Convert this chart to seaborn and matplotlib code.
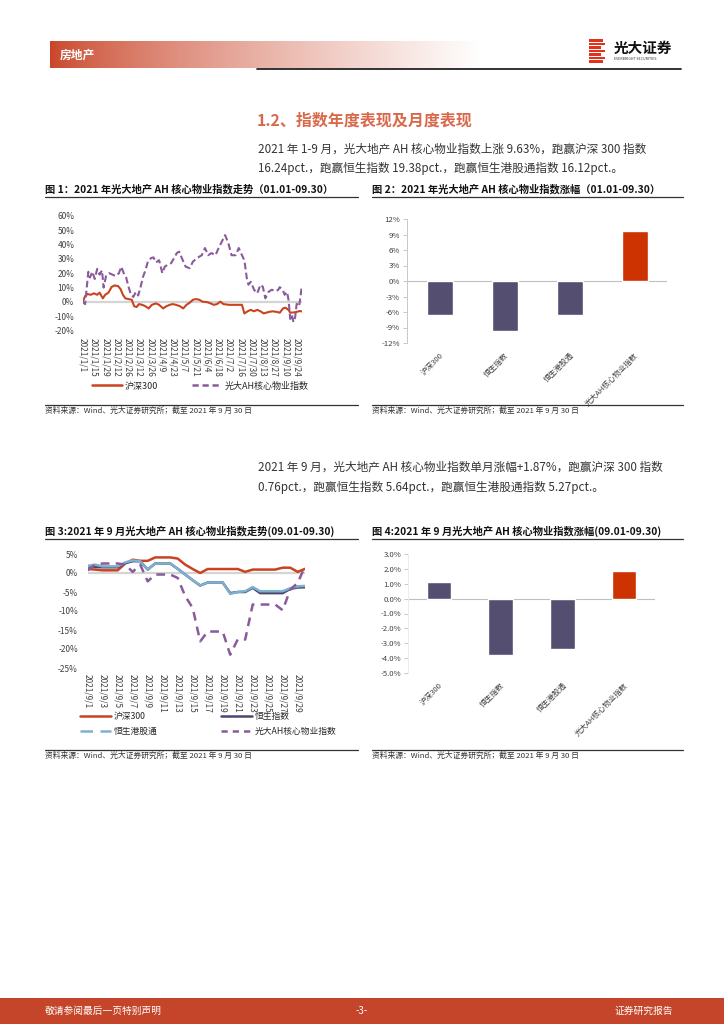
import numpy as np
import pandas as pd
import seaborn as sns
import matplotlib.pyplot as plt
from matplotlib.lines import Line2D
from matplotlib.patches import Rectangle

sns.set_theme(style="white")
plt.rcParams['font.family'] = ['Noto Sans CJK SC', 'DejaVu Sans']
plt.rcParams['axes.unicode_minus'] = False

# colours
RED = "#C9431F"
PURPLE = "#8A5B9B"
NAVY = "#4B4670"
LBLUE = "#7DB1CF"
BAR = "#544F70"
BAR_RED = "#CC3300"
TXT = "#333333"

# ---- chart 1: year-to-date index moves (%)
ah_dates = ["2021-01-01", "2021-01-04", "2021-01-08", "2021-01-10", "2021-01-13", "2021-01-16",
            "2021-01-19", "2021-01-22", "2021-01-25", "2021-01-27", "2021-01-30", "2021-02-03",
            "2021-02-07", "2021-02-11", "2021-02-15", "2021-02-18", "2021-02-21", "2021-02-24",
            "2021-02-27", "2021-03-02", "2021-03-05", "2021-03-08", "2021-03-11", "2021-03-14",
            "2021-03-17", "2021-03-20", "2021-03-23", "2021-03-27", "2021-03-30", "2021-04-02",
            "2021-04-06", "2021-04-10", "2021-04-13", "2021-04-17", "2021-04-21", "2021-04-25",
            "2021-04-28", "2021-05-01", "2021-05-05", "2021-05-09", "2021-05-14", "2021-05-18",
            "2021-05-23", "2021-05-29", "2021-06-02", "2021-06-06", "2021-06-10", "2021-06-15",
            "2021-06-19", "2021-06-23", "2021-06-27", "2021-07-01", "2021-07-05", "2021-07-10",
            "2021-07-14", "2021-07-18", "2021-07-21", "2021-07-24", "2021-07-26", "2021-07-29",
            "2021-08-02", "2021-08-06", "2021-08-10", "2021-08-13", "2021-08-16", "2021-08-20",
            "2021-08-24", "2021-08-29", "2021-09-01", "2021-09-03", "2021-09-07", "2021-09-09",
            "2021-09-12", "2021-09-14", "2021-09-16", "2021-09-18", "2021-09-20", "2021-09-22",
            "2021-09-24", "2021-09-27", "2021-09-29", "2021-09-30"]
ah_vals = [0, -1.5, 21, 17, 21, 16,
           23, 19, 22, 10, 18, 20,
           19, 18, 20, 24.5, 20, 17,
           10.5, 5, 3.5, 7, 4.5, 10.5,
           17.5, 22, 28, 30.5, 31, 27.5,
           29, 20, 24.5, 26, 27, 31,
           34, 35, 29.5, 24.5, 23.5, 28,
           30.5, 32.5, 37.5, 32.5, 34, 32.5,
           37.5, 42, 46.5, 41, 32.5, 32.5,
           37.5, 32.5, 29, 16.5, 12, 14,
           8.5, 6, 12, 10.5, 2.5, 7,
           8.5, 7.5, 8.4, 10.3, 8, 5,
           7, 1, -11.8, -9, -14, -11,
           -1.3, -3, 4.8, 9.6]

hs_dates = ["2021-01-01", "2021-01-04", "2021-01-07", "2021-01-11", "2021-01-15", "2021-01-19",
            "2021-01-22", "2021-01-26", "2021-01-29", "2021-02-02", "2021-02-06", "2021-02-10",
            "2021-02-14", "2021-02-17", "2021-02-20", "2021-02-23", "2021-02-27", "2021-03-03",
            "2021-03-06", "2021-03-09", "2021-03-12", "2021-03-16", "2021-03-20", "2021-03-24",
            "2021-03-28", "2021-04-02", "2021-04-06", "2021-04-11", "2021-04-15", "2021-04-19",
            "2021-04-23", "2021-04-27", "2021-05-02", "2021-05-06", "2021-05-10", "2021-05-14",
            "2021-05-18", "2021-05-22", "2021-05-26", "2021-05-30", "2021-06-05", "2021-06-09",
            "2021-06-13", "2021-06-17", "2021-06-21", "2021-06-25", "2021-07-02", "2021-07-10",
            "2021-07-18", "2021-07-21", "2021-07-25", "2021-07-29", "2021-08-02", "2021-08-06",
            "2021-08-10", "2021-08-14", "2021-08-20", "2021-08-25", "2021-08-31", "2021-09-03",
            "2021-09-07", "2021-09-10", "2021-09-14", "2021-09-16", "2021-09-22", "2021-09-28",
            "2021-09-30"]
hs_vals = [0, 4, 5.5, 5, 6, 5,
           6.5, 2.5, 5, 6.5, 10.5, 11.5,
           11, 9, 5, 2.5, 2, 1.5,
           -3, -3.5, -1.5, -2, -3, -4.5,
           -2, -1, -2, -4.5, -3, -2,
           -1.5, -2, -3, -4.5, -2, -0.5,
           1.5, 2, 1.5, 0.2, -0.2, -1,
           -2, -1.5, 0.2, -1.5, -2, -2,
           -2, -8, -6.5, -5.5, -6.5, -5.5,
           -6.5, -8, -7, -6.5, -7, -7.5,
           -4.5, -4, -5.6, -7.5, -7.2, -6.3,
           -6.6]

ytd_ticks = ["2021/1/1", "2021/1/15", "2021/1/29", "2021/2/12", "2021/2/26", "2021/3/12",
             "2021/3/26", "2021/4/9", "2021/4/23", "2021/5/7", "2021/5/21", "2021/6/4",
             "2021/6/18", "2021/7/2", "2021/7/16", "2021/7/30", "2021/8/13", "2021/8/27",
             "2021/9/10", "2021/9/24"]

# ---- chart 2 / 4: bar values (%)
bar_names = ["沪深300", "恒生指数", "恒生港股通", "光大AH核心物业指数"]
ytd_change = [-6.61, -9.75, -6.49, 9.63]
sep_change = [1.11, -3.77, -3.40, 1.87]

# ---- chart 3: September daily moves (%)
sep_days = pd.date_range("2021-09-01", "2021-09-30")
sep_hs300 = [1.05, 0.9, 0.7, 0.7, 0.7, 2.5, 3.5, 3.2, 3.2, 4.1,
             4.1, 4.1, 3.8, 2.2, 1.05, 0.0, 1.05, 1.05, 1.05, 1.05,
             1.05, 0.3, 0.9, 0.9, 0.9, 0.9, 1.4, 1.4, 0.3, 1.11]
sep_hsi = [1.75, 1.6, 1.5, 1.5, 1.5, 2.6, 3.1, 3.1, 0.9, 2.5,
           2.5, 2.5, 1.1, -0.4, -1.9, -3.3, -2.5, -2.5, -2.5, -5.3,
           -5.0, -5.0, -3.9, -5.3, -5.3, -5.3, -5.3, -4.2, -3.8, -3.77]
sep_hkc = [1.9, 2.2, 1.75, 1.75, 1.75, 2.8, 3.3, 3.1, 0.9, 2.5,
           2.5, 2.5, 1.1, -0.4, -1.9, -3.3, -2.5, -2.5, -2.5, -5.5,
           -5.0, -4.8, -3.7, -4.8, -4.8, -4.8, -4.8, -4.0, -3.5, -3.40]
sep_ah = [0.7, 2.2, 2.5, 2.5, 2.5, 2.2, 0.3, 2.2, -2.2, -0.4,
          -0.4, -0.4, -1.3, -6.1, -9.2, -18.0, -15.4, -15.4, -15.4, -21.5,
          -17.5, -17.5, -8.3, -8.3, -8.3, -8.3, -9.8, -4.4, -2.6, 1.87]
sep_ticks = ["2021/9/1", "2021/9/3", "2021/9/5", "2021/9/7", "2021/9/9", "2021/9/11",
             "2021/9/13", "2021/9/15", "2021/9/17", "2021/9/19", "2021/9/21", "2021/9/23",
             "2021/9/25", "2021/9/27", "2021/9/29"]

W, H = 724, 1024
fig = plt.figure(figsize=(7.24, 10.24), dpi=100)


def box(l, t, r, b):
    return [l / W, 1 - b / H, (r - l) / W, (b - t) / H]


def ftext(x, y, s, **kw):
    kw.setdefault("va", "center")
    fig.text(x / W, 1 - y / H, s, **kw)


def hline(x0, x1, y, **kw):
    fig.add_artist(Line2D([x0 / W, x1 / W], [1 - y / H, 1 - y / H], **kw))


# ---- page header
hdr = fig.add_axes(box(50, 41, 482, 68))
g = np.linspace(0, 1, 300) ** 0.75
c0 = np.array([0.79, 0.27, 0.16])
grad = c0[None, :] * (1 - g[:, None]) + g[:, None]
hdr.imshow(grad[None, :, :], aspect="auto", extent=[0, 1, 0, 1])
hdr.axis("off")
ftext(60, 55, "房地产", color="white", fontsize=8.5, fontweight="bold")
hline(257, 681, 68.5, color="#222222", lw=1.3)
for i, w in enumerate([14, 16, 12, 16, 12, 16, 14]):
    fig.add_artist(Rectangle((589 / W, 1 - (39 + i * 3.5 + 2.6) / H), w / W, 2.6 / H,
                             transform=fig.transFigure, color="#E2321C", lw=0))
ftext(614, 48, "光大证券", fontsize=10.5, fontweight="bold", color="#111111")
ftext(614, 59, "EVERBRIGHT SECURITIES", fontsize=2.6, color="#333333")

# ---- section heading and paragraphs
ftext(257, 121, "1.2、指数年度表现及月度表现", fontsize=11.5, fontweight="bold", color="#D9694C")
ftext(258, 149, "2021 年 1-9 月，光大地产 AH 核心物业指数上涨 9.63%，跑赢沪深 300 指数",
      fontsize=8.4, color=TXT)
ftext(258, 168, "16.24pct.，跑赢恒生指数 19.38pct.，跑赢恒生港股通指数 16.12pct.。",
      fontsize=8.4, color=TXT)
ftext(258, 467, "2021 年 9 月，光大地产 AH 核心物业指数单月涨幅+1.87%，跑赢沪深 300 指数",
      fontsize=8.4, color=TXT)
ftext(258, 487, "0.76pct.，跑赢恒生指数 5.64pct.，跑赢恒生港股通指数 5.27pct.。",
      fontsize=8.4, color=TXT)

# ---- figure titles and sources
src = "资料来源：Wind、光大证券研究所；截至 2021 年 9 月 30 日"
for x0, x1, ty, ly, sy, title in [
    (45, 358, 189, 197, 411, "图 1：2021 年光大地产 AH 核心物业指数走势（01.01-09.30）"),
    (372, 683, 189, 197, 411, "图 2：2021 年光大地产 AH 核心物业指数涨幅（01.01-09.30）"),
    (45, 358, 531, 539, 756, "图 3:2021 年 9 月光大地产 AH 核心物业指数走势(09.01-09.30)"),
    (372, 683, 531, 539, 756, "图 4:2021 年 9 月光大地产 AH 核心物业指数涨幅(09.01-09.30)"),
]:
    ftext(x0, ty, title, fontsize=7.4, fontweight="bold", color="#111111")
    hline(x0, x1, ly, color="#333333", lw=0.9)
    hline(x0, x1, sy - 6, color="#333333", lw=0.9)
    ftext(x0, sy, src, fontsize=5.6, color=TXT)

# ---- chart 1
ax1 = fig.add_axes(box(82.7, 215.7, 301.5, 330.7))
ax1.axhline(0, color="#D4D4D4", lw=1.6, zorder=0)
sns.lineplot(x=pd.to_datetime(hs_dates), y=hs_vals, ax=ax1, color=RED, lw=1.5)
sns.lineplot(x=pd.to_datetime(ah_dates), y=ah_vals, ax=ax1, color=PURPLE, lw=1.5)
ax1.lines[-1].set_dashes((3.2, 1.6))
ax1.set_xlim(pd.Timestamp("2021-01-01"), pd.Timestamp("2021-09-30"))
ax1.set_ylim(-20, 60)
ax1.set_yticks(range(-20, 61, 10))
ax1.set_yticklabels([f"{v}%" for v in range(-20, 61, 10)])
ax1.set_xticks(pd.to_datetime(ytd_ticks, format="%Y/%m/%d"))
ax1.set_xticklabels(ytd_ticks, rotation=270)
ax1.tick_params(axis="both", length=0, labelsize=6, labelcolor="#404040")
ax1.tick_params(axis="y", pad=6)
ax1.tick_params(axis="x", pad=5)
ax1.set_xlabel("")
ax1.set_ylabel("")
sns.despine(ax=ax1, left=True, bottom=True)
ax1.legend([Line2D([], [], color=RED, lw=1.8),
            Line2D([], [], color=PURPLE, lw=1.8, dashes=(2.5, 1.5))],
           ["沪深300", "光大AH核心物业指数"], loc="center left",
           bbox_to_anchor=(92 / W, 1 - 386 / H), bbox_transform=fig.transFigure,
           ncol=2, frameon=False, fontsize=6.5, handlelength=3.3, handletextpad=0.3,
           columnspacing=3.8, borderpad=0, borderaxespad=0)

# ---- chart 3
ax3 = fig.add_axes(box(87.7, 554, 305.2, 668))
ax3.axhline(0, color="#D4D4D4", lw=1.6, zorder=0)
sns.lineplot(x=sep_days, y=sep_hs300, ax=ax3, color=RED, lw=1.8)
sns.lineplot(x=sep_days, y=sep_hsi, ax=ax3, color=NAVY, lw=1.8)
sns.lineplot(x=sep_days, y=sep_hkc, ax=ax3, color=LBLUE, lw=1.8)
sns.lineplot(x=sep_days, y=sep_ah, ax=ax3, color=PURPLE, lw=1.8)
ax3.lines[-1].set_dashes((3.5, 2.5))
ax3.set_xlim(sep_days[0], sep_days[-1])
ax3.set_ylim(-25, 5)
ax3.set_yticks(range(-25, 6, 5))
ax3.set_yticklabels([f"{v}%" for v in range(-25, 6, 5)])
ax3.set_xticks(pd.to_datetime(sep_ticks, format="%Y/%m/%d"))
ax3.set_xticklabels(sep_ticks, rotation=270)
ax3.tick_params(axis="both", length=0, labelsize=6, labelcolor="#404040")
ax3.tick_params(axis="y", pad=7)
ax3.tick_params(axis="x", pad=4)
ax3.set_xlabel("")
ax3.set_ylabel("")
sns.despine(ax=ax3, left=True, bottom=True)
ax3.legend([Line2D([], [], color=RED, lw=1.8),
            Line2D([], [], color=LBLUE, lw=1.8, dashes=(5, 3)),
            Line2D([], [], color=NAVY, lw=1.8),
            Line2D([], [], color=PURPLE, lw=1.8, dashes=(2.5, 2))],
           ["沪深300", "恒生港股通", "恒生指数", "光大AH核心物业指数"], loc="upper left",
           bbox_to_anchor=(80 / W, 1 - 712 / H), bbox_transform=fig.transFigure,
           ncol=2, frameon=False, fontsize=6.3, handlelength=3.5, handletextpad=0.4,
           columnspacing=7.2, labelspacing=0.7, borderpad=0, borderaxespad=0)


# ---- bar charts
def bar_chart(rect, values, lo, hi, step, fmt, spine_col):
    ax = fig.add_axes(rect)
    df = pd.DataFrame({"name": bar_names, "value": values})
    ax.axhline(0, color="#BFBFBF", lw=0.8, zorder=0)
    sns.barplot(data=df, x="name", y="value", hue="name", legend=False,
                palette=[BAR, BAR, BAR, BAR_RED], saturation=1, width=0.4, ax=ax)
    ax.set_xlim(-0.5, 3.5)
    ax.set_ylim(lo, hi)
    ticks = np.arange(lo, hi + step / 2, step)
    ax.set_yticks(ticks)
    ax.set_yticklabels([fmt.format(v) for v in ticks])
    ax.set_xticks(range(len(bar_names)))
    ax.set_xticklabels(bar_names, rotation=45, ha="right", rotation_mode="anchor")
    ax.tick_params(axis="x", length=0, pad=6, labelsize=5.5, labelcolor="#404040")
    ax.tick_params(axis="y", left=True, length=3, width=0.6, color="#BFBFBF",
                   pad=2, labelsize=5.6, labelcolor="#404040")
    ax.set_xlabel("")
    ax.set_ylabel("")
    sns.despine(ax=ax, bottom=True)
    ax.spines["left"].set_color(spine_col)
    ax.spines["left"].set_linewidth(0.7)
    return ax


bar_chart(box(407, 219, 667, 343), ytd_change, -12, 12, 3, "{:.0f}%", "#C8C8C8")
bar_chart(box(408, 554, 655, 673), sep_change, -5, 3, 1, "{:.1f}%", "#EDEDED")

# ---- footer
fig.add_artist(Rectangle((0, 0), 1, 26 / H, transform=fig.transFigure,
                         color="#C5452A", lw=0))
ftext(45, 1011, "敬请参阅最后一页特别声明", fontsize=7, color="white")
ftext(362, 1011, "-3-", fontsize=7, color="white", ha="center")
ftext(673, 1011, "证券研究报告", fontsize=7, color="white", ha="right")

fig.savefig("out.png", dpi=100, facecolor="white")
